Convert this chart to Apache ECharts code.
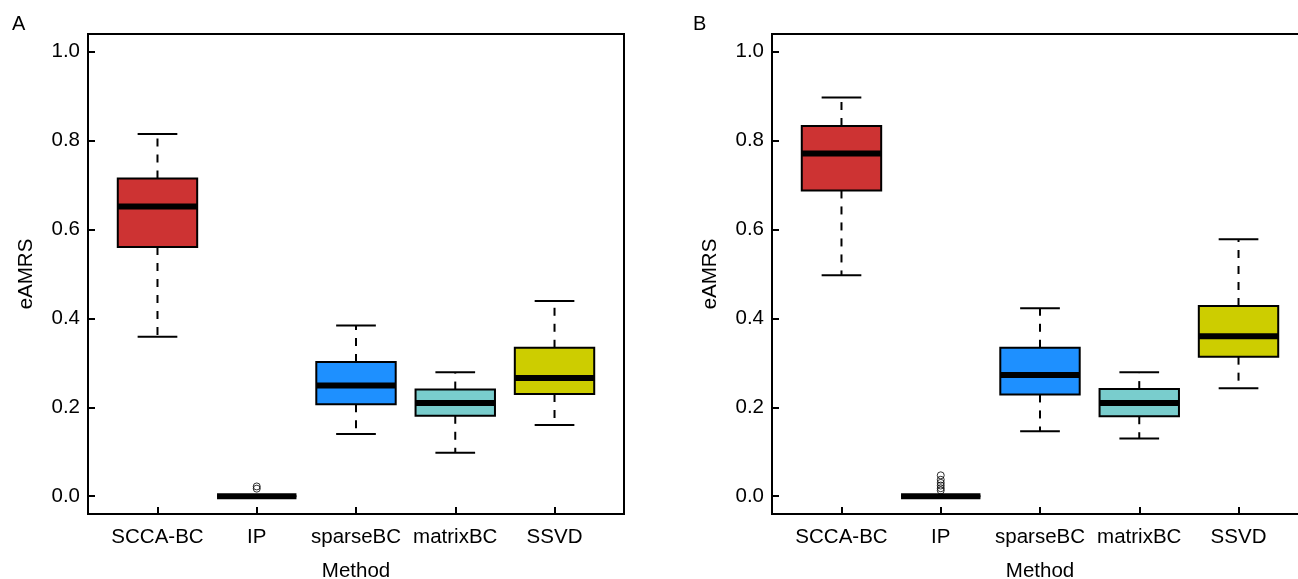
<!DOCTYPE html>
<html>
<head>
<meta charset="utf-8">
<script src="https://cdn.jsdelivr.net/npm/echarts@6/dist/echarts.min.js"></script>
<style>
html,body{margin:0;padding:0;background:#fff;}
#chart{width:1298px;height:579px;}
</style>
</head>
<body>
<div id="chart"></div>
<script>
// ---- data ----
const categories = ['SCCA-BC', 'IP', 'sparseBC', 'matrixBC', 'SSVD'];
const yTicks = [0, 0.2, 0.4, 0.6, 0.8, 1.0];

// Panel A
const lowA    = [0.359, 0, 0.140, 0.098, 0.160];
const q1A     = [0.561, 0, 0.207, 0.181, 0.230];
const medianA = [0.652, 0, 0.249, 0.210, 0.266];
const q3A     = [0.715, 0, 0.302, 0.240, 0.334];
const highA   = [0.815, 0, 0.384, 0.279, 0.439];
const outlierCatA = [2, 2];
const outlierValA = [0.017, 0.022];

// Panel B
const lowB    = [0.497, 0, 0.146, 0.130, 0.243];
const q1B     = [0.688, 0, 0.229, 0.180, 0.314];
const medianB = [0.771, 0, 0.273, 0.210, 0.360];
const q3B     = [0.833, 0, 0.334, 0.241, 0.428];
const highB   = [0.897, 0, 0.423, 0.279, 0.578];
const outlierCatB = [2, 2, 2, 2, 2, 2];
const outlierValB = [0.013, 0.018, 0.024, 0.030, 0.037, 0.047];

// ---- styles ----
const fills = ['#CD3333', '#BEBEBE', '#1E90FF', '#79CDCD', '#CDCD00'];
const FONT = 'Liberation Sans, Arial, Helvetica, sans-serif';
const FS = 20.5;

function boxData(lo, q1, md, q3, hi) {
  return categories.map((c, i) => [i + 1, lo[i], q1[i], md[i], q3[i], hi[i]]);
}
function outData(cats, vals) {
  return vals.map((v, i) => [cats[i], v]);
}

function renderBox(params, api) {
  const x = api.value(0);
  const lo = api.coord([x, api.value(1)]);
  const q1 = api.coord([x, api.value(2)]);
  const md = api.coord([x, api.value(3)]);
  const q3 = api.coord([x, api.value(4)]);
  const hi = api.coord([x, api.value(5)]);
  const w = api.size([0.8, 0])[0];
  const cw = api.size([0.4, 0])[0];
  const cx = lo[0];
  const dash = {stroke: '#000', lineWidth: 2, lineDash: [8, 8], lineCap: 'butt'};
  const solid = {stroke: '#000', lineWidth: 2, lineCap: 'butt'};
  return {
    type: 'group',
    children: [
      {type: 'line', shape: {x1: cx, y1: q1[1], x2: cx, y2: lo[1]}, style: dash},
      {type: 'line', shape: {x1: cx, y1: q3[1], x2: cx, y2: hi[1]}, style: dash},
      {type: 'line', shape: {x1: cx - cw / 2, y1: lo[1], x2: cx + cw / 2, y2: lo[1]}, style: solid},
      {type: 'line', shape: {x1: cx - cw / 2, y1: hi[1], x2: cx + cw / 2, y2: hi[1]}, style: solid},
      {type: 'rect', shape: {x: cx - w / 2, y: q3[1], width: w, height: q1[1] - q3[1]},
        style: {fill: fills[params.dataIndex], stroke: '#000', lineWidth: 2}},
      {type: 'line', shape: {x1: cx - w / 2, y1: md[1], x2: cx + w / 2, y2: md[1]},
        style: {stroke: '#000', lineWidth: 6, lineCap: 'butt'}}
    ]
  };
}

function xAxisDef(gi) {
  return {
    type: 'value', gridIndex: gi, min: 0.3, max: 5.7,
    name: 'Method', nameLocation: 'middle', nameGap: 47,
    nameTextStyle: {fontSize: FS, color: '#000', fontFamily: FONT},
    axisLine: {show: true, onZero: false, lineStyle: {color: '#000', width: 2}},
    axisTick: {show: true, inside: true, length: 7, customValues: [1, 2, 3, 4, 5], lineStyle: {color: '#000', width: 2}},
    axisLabel: {show: true, customValues: [1, 2, 3, 4, 5], margin: 13, fontSize: FS, color: '#000', fontFamily: FONT,
      formatter: v => categories[Math.round(v) - 1]},
    splitLine: {show: false}
  };
}
function yAxisDef(gi) {
  return {
    type: 'value', gridIndex: gi, min: -0.04, max: 1.04,
    name: 'eAMRS', nameLocation: 'middle', nameGap: 51,
    nameTextStyle: {fontSize: FS, color: '#000', fontFamily: FONT},
    axisLine: {show: true, onZero: false, lineStyle: {color: '#000', width: 2}},
    axisTick: {show: true, inside: true, length: 7, customValues: yTicks, lineStyle: {color: '#000', width: 2}},
    axisLabel: {show: true, customValues: yTicks, margin: 8, fontSize: FS, color: '#000', fontFamily: FONT,
      formatter: v => v.toFixed(1)},
    splitLine: {show: false}
  };
}

const chart = echarts.init(document.getElementById('chart'), null, {renderer: 'canvas'});
chart.setOption({
  backgroundColor: '#fff',
  animation: false,
  textStyle: {fontFamily: FONT},
  graphic: [
    {type: 'text', left: 12, top: 14, style: {text: 'A', fontSize: 20, fontFamily: FONT, fill: '#000'}},
    {type: 'text', left: 693, top: 14, style: {text: 'B', fontSize: 20, fontFamily: FONT, fill: '#000'}}
  ],
  grid: [
    {left: 88, top: 34, width: 536, height: 480, show: true, borderColor: '#000', borderWidth: 2,
      backgroundColor: 'transparent', containLabel: false, outerBoundsMode: 'none'},
    {left: 772, top: 34, width: 536, height: 480, show: true, borderColor: '#000', borderWidth: 2,
      backgroundColor: 'transparent', containLabel: false, outerBoundsMode: 'none'}
  ],
  xAxis: [xAxisDef(0), xAxisDef(1)],
  yAxis: [yAxisDef(0), yAxisDef(1)],
  series: [
    {type: 'custom', xAxisIndex: 0, yAxisIndex: 0, renderItem: renderBox,
      encode: {x: 0, y: [1, 2, 3, 4, 5]}, data: boxData(lowA, q1A, medianA, q3A, highA)},
    {type: 'custom', xAxisIndex: 1, yAxisIndex: 1, renderItem: renderBox,
      encode: {x: 0, y: [1, 2, 3, 4, 5]}, data: boxData(lowB, q1B, medianB, q3B, highB)},
    {type: 'scatter', xAxisIndex: 0, yAxisIndex: 0, symbol: 'circle', symbolSize: 7,
      itemStyle: {color: 'transparent', borderColor: '#000', borderWidth: 1},
      data: outData(outlierCatA, outlierValA), z: 5},
    {type: 'scatter', xAxisIndex: 1, yAxisIndex: 1, symbol: 'circle', symbolSize: 7,
      itemStyle: {color: 'transparent', borderColor: '#000', borderWidth: 1},
      data: outData(outlierCatB, outlierValB), z: 5}
  ]
});
</script>
</body>
</html>
